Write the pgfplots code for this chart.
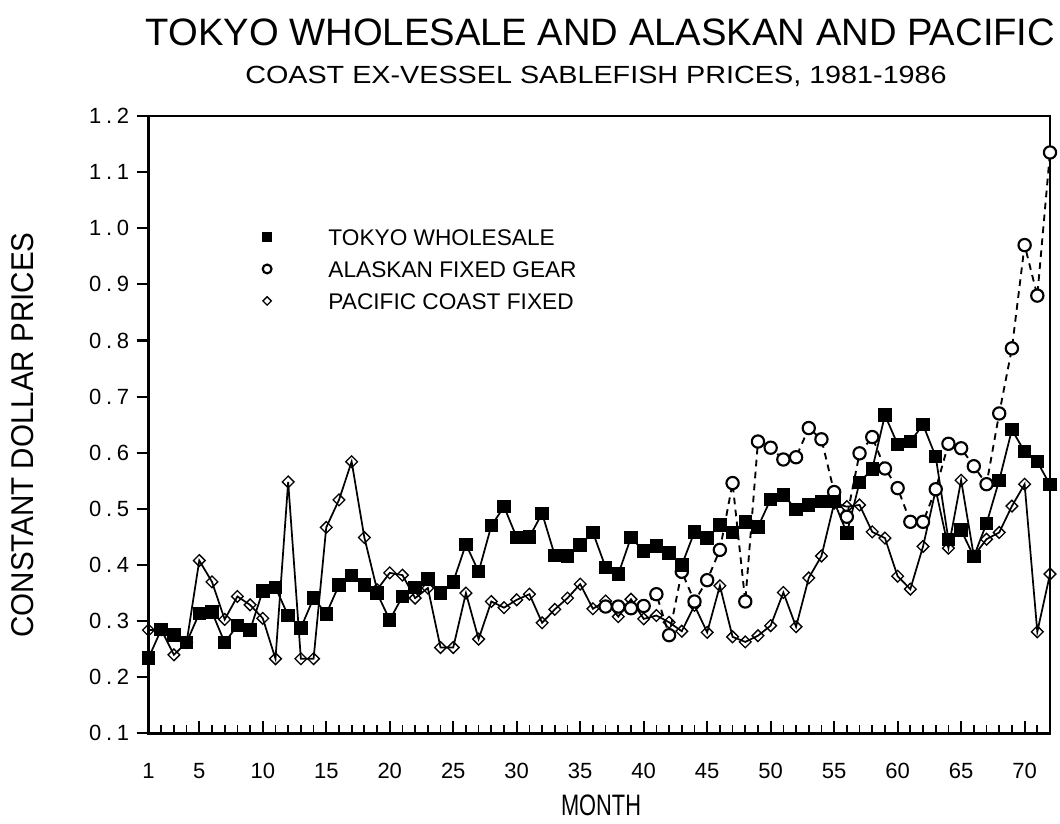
\documentclass[border=0pt]{standalone}
\usepackage{fontspec}
\setmainfont{Liberation Sans}
\usepackage{graphicx}
\usepackage{pgfplots}
\usepackage{pgfplotstable}
\pgfplotsset{compat=1.18}

\pgfplotstableread{
m v
1 0.234
2 0.285
3 0.275
4 0.262
5 0.314
6 0.316
7 0.262
8 0.292
9 0.284
10 0.354
11 0.360
12 0.310
13 0.288
14 0.341
15 0.313
16 0.364
17 0.381
18 0.364
19 0.350
20 0.302
21 0.344
22 0.360
23 0.375
24 0.350
25 0.370
26 0.437
27 0.388
28 0.470
29 0.504
30 0.449
31 0.450
32 0.492
33 0.417
34 0.416
35 0.436
36 0.458
37 0.396
38 0.384
39 0.449
40 0.425
41 0.434
42 0.421
43 0.400
44 0.459
45 0.448
46 0.471
47 0.458
48 0.477
49 0.468
50 0.517
51 0.525
52 0.499
53 0.507
54 0.513
55 0.513
56 0.457
57 0.547
58 0.571
59 0.667
60 0.615
61 0.620
62 0.650
63 0.593
64 0.445
65 0.462
66 0.415
67 0.474
68 0.551
69 0.641
70 0.602
71 0.584
72 0.543
}\tokyo

\pgfplotstableread{
m v
37 0.326
38 0.326
39 0.323
40 0.327
41 0.348
42 0.275
43 0.388
44 0.335
45 0.373
46 0.427
47 0.546
48 0.335
49 0.620
50 0.609
51 0.588
52 0.592
53 0.644
54 0.624
55 0.530
56 0.486
57 0.599
58 0.628
59 0.572
60 0.537
61 0.477
62 0.477
63 0.535
64 0.616
65 0.608
66 0.576
67 0.544
68 0.670
69 0.786
70 0.970
71 0.880
72 1.135
}\alaska

\pgfplotstableread{
m v
1 0.284
2 0.285
3 0.240
4 0.262
5 0.408
6 0.370
7 0.303
8 0.344
9 0.329
10 0.305
11 0.233
12 0.548
13 0.233
14 0.233
15 0.467
16 0.516
17 0.584
18 0.449
19 0.356
20 0.386
21 0.382
22 0.341
23 0.359
24 0.253
25 0.253
26 0.350
27 0.268
28 0.335
29 0.324
30 0.338
31 0.348
32 0.297
33 0.321
34 0.341
35 0.366
36 0.322
37 0.336
38 0.308
39 0.339
40 0.304
41 0.310
42 0.298
43 0.282
44 0.328
45 0.280
46 0.363
47 0.272
48 0.263
49 0.274
50 0.292
51 0.351
52 0.290
53 0.377
54 0.416
55 0.510
56 0.504
57 0.507
58 0.459
59 0.448
60 0.380
61 0.357
62 0.433
63 0.534
64 0.430
65 0.551
66 0.416
67 0.446
68 0.458
69 0.505
70 0.544
71 0.281
72 0.384
}\pacific

\newcommand{\yl}[2]{#1\hspace{3.5pt}.\hspace{3.5pt}#2}

\pgfplotsset{
  markonlylegend/.style={legend image code/.code={%
    \path[draw=none, fill=none] (-6pt,0pt) -- (46pt,0pt);
    \draw[##1, solid, every mark/.append style={scale=0.72}] plot[only marks] coordinates {(0pt,0pt)};}},
}

\begin{document}
\begin{tikzpicture}[x=0.75pt,y=0.75pt]
\path[use as bounding box] (0,0) rectangle (1060,824);
\begin{axis}[
  at={(111.375pt,67.95pt)}, anchor=south west,
  width=676.125pt, height=463.05pt, scale only axis,
  xmin=1, xmax=72, ymin=0.1, ymax=1.2,
  axis line style={line width=2.2pt},
  every tick/.style={black, line width=1.6pt},
  minor tick style={black, line width=1.3pt},
  xtick pos=bottom, ytick pos=left,
  xtick={1,5,10,15,20,25,30,35,40,45,50,55,60,65,70},
  minor xtick={1,...,72},
  xtick align=inside,
  ytick align=outside,
  major tick length=9pt,
  minor tick length=6pt,
  ytick={0.1,0.2,0.3,0.4,0.5,0.6,0.7,0.8,0.9,1.0,1.1,1.2},
  yticklabels={\yl{0}{1},\yl{0}{2},\yl{0}{3},\yl{0}{4},\yl{0}{5},\yl{0}{6},\yl{0}{7},\yl{0}{8},\yl{0}{9},\yl{1}{0},\yl{1}{1},\yl{1}{2}},
  /pgf/number format/assume math mode=true,
  tick label style={font=\fontsize{16.5}{18}\selectfont},
  xticklabel style={yshift=-19pt},
  yticklabel style={xshift=-2pt},
  legend style={draw=none, fill=none, at={(axis description cs:0.118,0.822)}, anchor=north west,
    font=\fontsize{17}{20}\selectfont, row sep=11.8pt, column sep=0pt,
    nodes={inner sep=0pt, text height=12.2pt, text depth=0pt}},
  legend cell align=left,
  reverse legend,
  clip=false,
]
\addplot[black, line width=1.3pt, mark=square, mark size=3.1pt,
  mark options={rotate=45, fill=white, solid, line width=1pt}, markonlylegend] table[x=m,y=v] {\pacific};
\addlegendentry{PACIFIC COAST FIXED}
\addplot[black, line width=1.4pt, dash pattern=on 5pt off 4pt, mark=*, mark size=4.6pt,
  mark options={fill=white, solid, line width=1.6pt}, markonlylegend] table[x=m,y=v] {\alaska};
\addlegendentry{ALASKAN FIXED GEAR}
\addplot[black, line width=1.3pt, mark=square*, mark size=4.4pt,
  mark options={fill=black, solid}, markonlylegend] table[x=m,y=v] {\tokyo};
\addlegendentry{TOKYO WHOLESALE}
\end{axis}
\node[anchor=base, inner sep=0pt] at (600.5,778) {\resizebox{682pt}{20pt}{TOKYO WHOLESALE AND ALASKAN AND PACIFIC}};
\node[anchor=base, inner sep=0pt] at (596,740) {\resizebox{526pt}{13pt}{COAST EX-VESSEL SABLEFISH PRICES, 1981-1986}};
\node[anchor=base, inner sep=0pt] at (601,8) {\resizebox{60pt}{15.5pt}{MONTH}};
\node[anchor=base, inner sep=0pt, rotate=90] at (33,389) {\resizebox{304pt}{16.5pt}{CONSTANT DOLLAR PRICES}};
\end{tikzpicture}
\end{document}
